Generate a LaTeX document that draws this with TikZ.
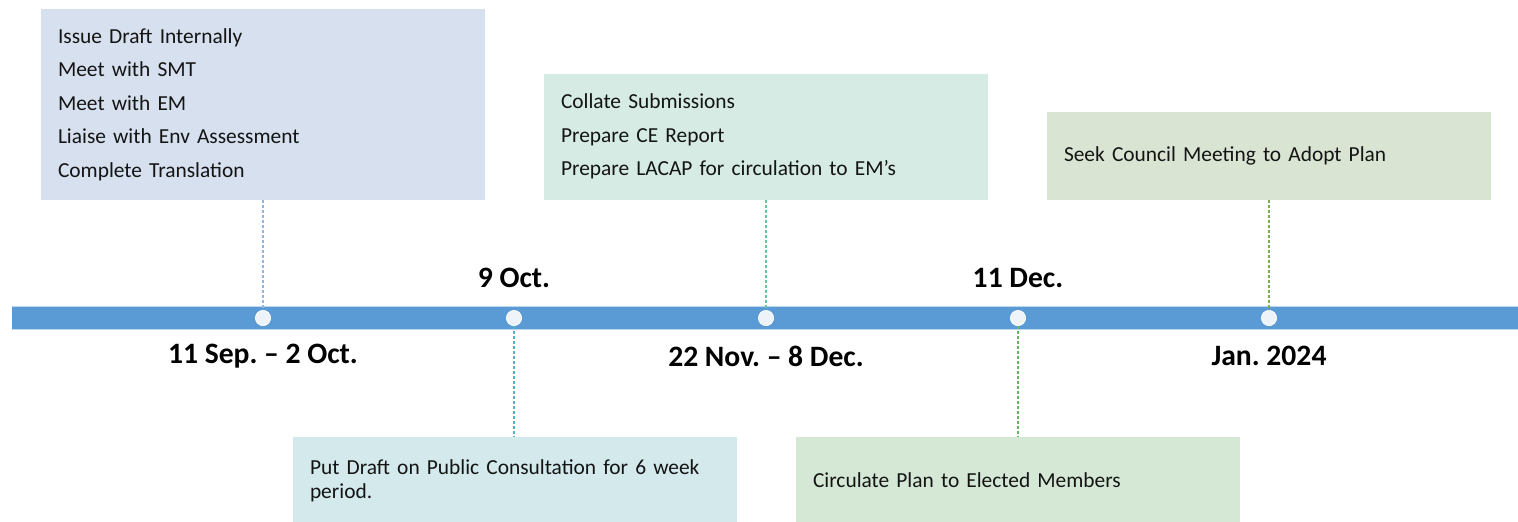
\documentclass[tikz,border=0pt]{standalone}
\usepackage{fontspec}
\setmainfont{Carlito}
\usepackage{xcolor}
\usetikzlibrary{positioning}
\frenchspacing
\definecolor{barblue}{RGB}{91,155,213}
\definecolor{dotfill}{RGB}{238,242,249}
\definecolor{paleblue}{RGB}{214,224,238}
\definecolor{palemint}{RGB}{213,235,227}
\definecolor{palesage}{RGB}{217,229,210}
\definecolor{paleteal}{RGB}{211,233,236}
\definecolor{palegreen}{RGB}{213,232,214}
\definecolor{lineblue}{RGB}{150,180,225}
\definecolor{linemint}{RGB}{102,199,150}
\definecolor{linesage}{RGB}{120,175,80}
\definecolor{lineteal}{RGB}{80,180,200}
\definecolor{linegreen}{RGB}{95,185,95}
\definecolor{inktext}{RGB}{20,20,20}

\begin{document}
\begin{tikzpicture}[
    x=0.5pt, y=-0.5pt,
    task/.style={rectangle, minimum width=222pt, text width=205pt, inner xsep=8.5pt,
                align=left, font=\fontsize{10.7}{16.75}\selectfont\color{inktext}},
    dot/.style={circle, fill=dotfill, draw=white, line width=0.3pt, inner sep=0pt, minimum size=7.5pt},
    date/.style={font=\fontsize{14.8}{17}\selectfont\bfseries, text=black},
    link/.style={line width=0.75pt, dash pattern=on 1.5pt off 1pt}
]
\useasboundingbox (0,0) rectangle (1518,521);
\clip (0,0) rectangle (1518,521);

% timeline bar
\fill[barblue] (12,306) rectangle (1518,329);
\draw[barblue!40, line width=0.4pt] (12,306) -- (1518,306) (12,329) -- (1518,329);
\foreach \i/\x in {1/263,2/514,3/766,4/1018,5/1269}
    \node[dot] (c\i) at (\x,318) {};

% tasks above the bar
\node[task, fill=paleblue, minimum height=95.5pt] (draft) at (263,104.5)
    {Issue Draft Internally\\ Meet with SMT\\ Meet with EM\\ Liaise with Env Assessment\\ Complete Translation};
\node[task, fill=palemint, minimum height=63pt] (collate) at (766,136.5)
    {Collate Submissions\\ Prepare CE Report\\ Prepare LACAP for circulation to EM’s};
\node[task, fill=palesage, minimum height=44pt] (adopt) at (1269,155.5)
    {Seek Council Meeting to Adopt Plan};

% tasks below the bar
\node[task, fill=paleteal, minimum height=44pt, font=\fontsize{10.7}{12.2}\selectfont\color{inktext}] (consult) at (515,480.5)
    {Put Draft on Public Consultation for 6 week\\ period.};
\node[task, fill=palegreen, minimum height=44pt] (circulate) at (1018,480.5)
    {Circulate Plan to Elected Members};

% dotted leaders
\draw[link, lineblue] (draft.south -| c1) -- (c1);
\draw[link, linemint] (collate.south -| c3) -- (c3);
\draw[link, linesage] (adopt.south -| c5) -- (c5);
\draw[link, lineteal] (c2) -- (consult.north -| c2);
\draw[link, linegreen] (c4) -- (circulate.north -| c4);
\foreach \i in {1,...,5} \node[dot] at (c\i) {};

% dates
\node[date] (d2) at (514,278) {9 Oct.};
\node[date] (d4) at (1018,278) {11 Dec.};
\node[date] (d1) at (263,356) {11 Sep. – 2 Oct.};
\node[date] (d3) at (766,356) {22 Nov. – 8 Dec.};
\node[date] (d5) at (1269,356) {Jan. 2024};
\end{tikzpicture}
\end{document}
